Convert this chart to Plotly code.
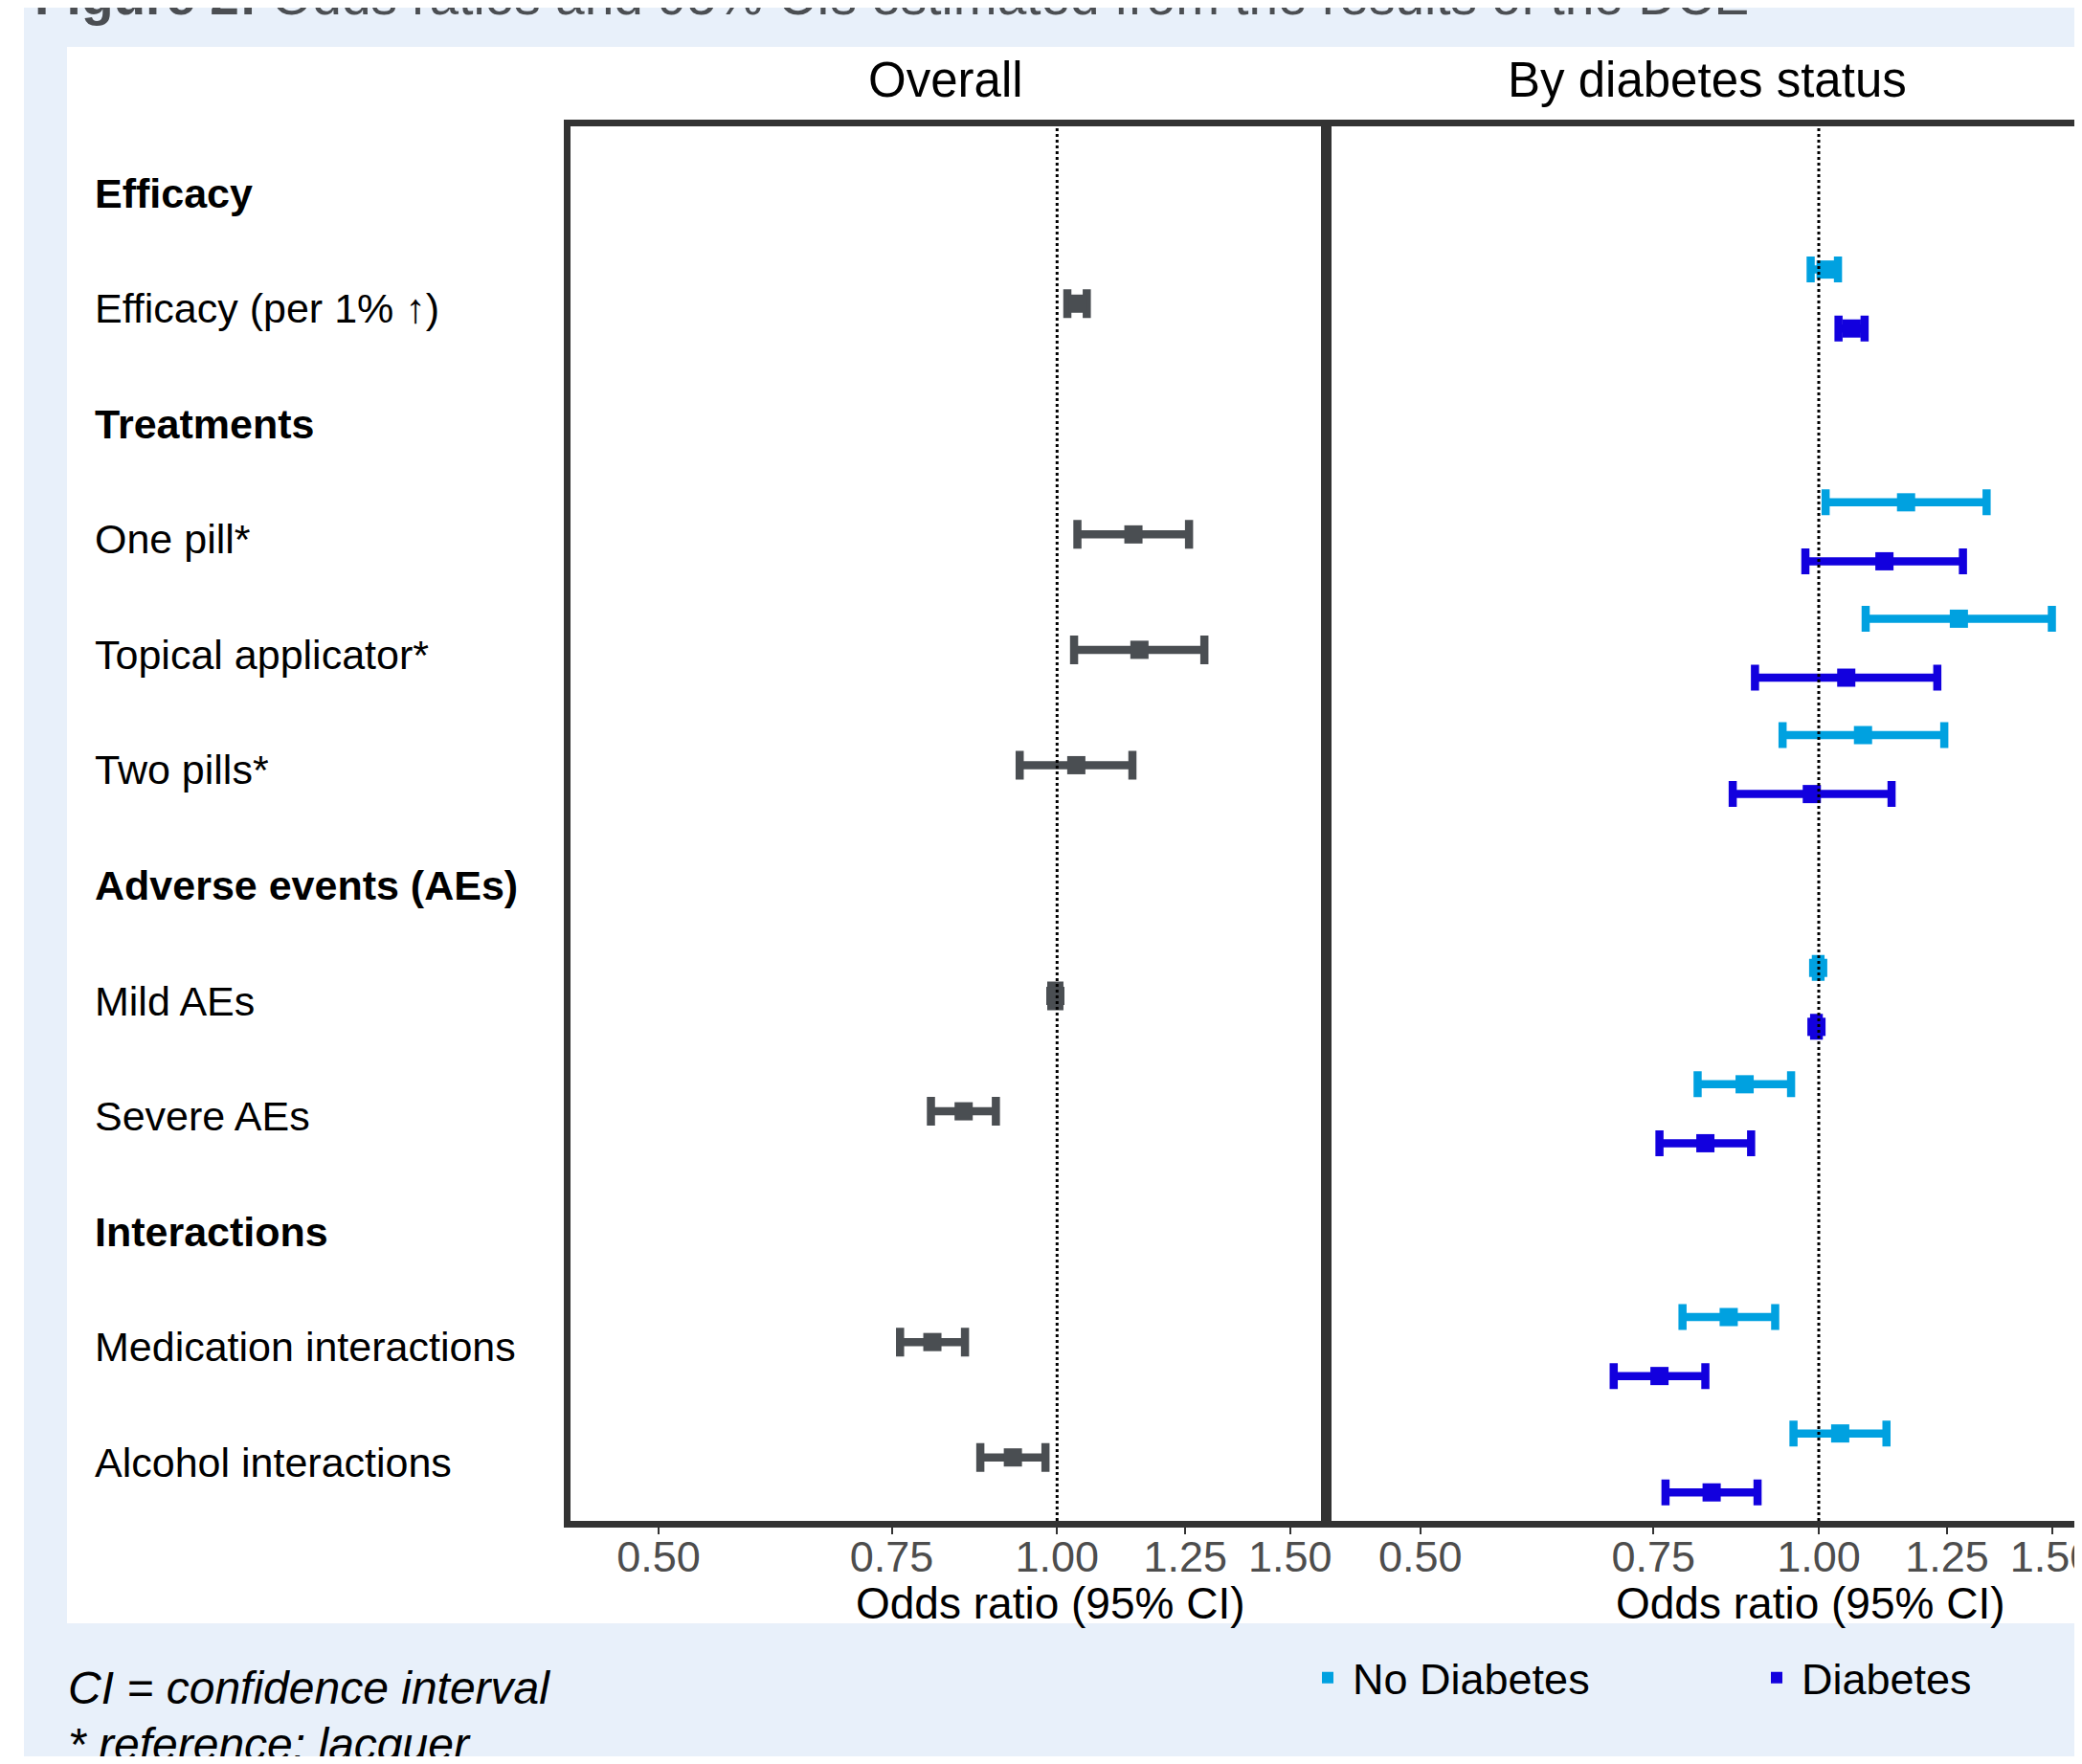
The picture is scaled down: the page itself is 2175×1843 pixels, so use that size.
import plotly.graph_objects as go

# ---------------- data ----------------
row_labels = ["Efficacy", "Efficacy (per 1% ↑)", "Treatments", "One pill*",
              "Topical applicator*", "Two pills*", "Adverse events (AEs)",
              "Mild AEs", "Severe AEs", "Interactions",
              "Medication interactions", "Alcohol interactions"]
row_is_header = [True, False, True, False, False, False, True, False, False,
                 True, False, False]

# attribute rows (index into row_labels)
attr_rows = [1, 3, 4, 5, 7, 8, 10, 11]

overall_or = [1.036, 1.142, 1.154, 1.034, 0.997, 0.850, 0.805, 0.926]
overall_lo = [1.018, 1.036, 1.030, 0.937, 0.990, 0.803, 0.761, 0.875]
overall_hi = [1.053, 1.258, 1.292, 1.140, 1.004, 0.899, 0.852, 0.980]

nodiab_or = [1.012, 1.164, 1.276, 1.080, 0.999, 0.879, 0.855, 1.038]
nodiab_lo = [0.986, 1.012, 1.085, 0.939, 0.995, 0.810, 0.789, 0.957]
nodiab_hi = [1.034, 1.339, 1.500, 1.244, 1.003, 0.953, 0.927, 1.125]

diab_or = [1.059, 1.121, 1.049, 0.988, 0.996, 0.821, 0.758, 0.830]
diab_lo = [1.035, 0.977, 0.895, 0.861, 0.992, 0.758, 0.700, 0.766]
diab_hi = [1.083, 1.285, 1.229, 1.135, 1.000, 0.889, 0.821, 0.899]

tick_vals = [0.50, 0.75, 1.00, 1.25, 1.50]
tick_text = ["0.50", "0.75", "1.00", "1.25", "1.50"]
ref_or = 1.0

panel_titles = ["Overall", "By diabetes status"]
axis_title = "Odds ratio (95% CI)"
group_names = ["No Diabetes", "Diabetes"]
fig_title = "<b>Figure 2:</b> Odds ratios and 95% CIs estimated from the results of the DCE"
footnotes = ["<i>CI = confidence interval</i>", "<i>* reference: lacquer</i>"]

# ---------------- styling ----------------
OFF = 8                     # default page body margin
W, H = 2175 - 2 * OFF, 1843 - 2 * OFF
FONT = "Liberation Sans, Arial, Helvetica, sans-serif"
C_OVERALL = "#4A4E52"
C_NODIAB = "#00A1E0"
C_DIAB = "#1200DE"
FRAME = "#333333"
DODGE = 0.2533


def px_x(p):
    return (p - OFF) / W


def px_y(p):
    return 1 - (p - OFF) / H


x_range1 = [-0.36756, 0.19936]
x_range2 = [-0.36807, 0.19307]
y1_range = [11.550, -0.537]
y2_range = [11.498, -0.4836]
dom_y = [px_y(1589), px_y(132)]
dom_x1 = [px_x(596), px_x(1380)]
dom_x2 = [px_x(1391), 1.0]


def err(o, lo, hi):
    return ([h - v for v, h in zip(o, hi)], [v - l for v, l in zip(o, lo)])


fig = go.Figure()

e_hi, e_lo = err(overall_or, overall_lo, overall_hi)
fig.add_trace(go.Scatter(
    x=overall_or, y=attr_rows, mode="markers", xaxis="x", yaxis="y",
    marker=dict(symbol="square", size=19, color=C_OVERALL),
    error_x=dict(type="data", symmetric=False, array=e_hi, arrayminus=e_lo,
                 color=C_OVERALL, thickness=8.5, width=15),
    showlegend=False, hoverinfo="skip"))

for name, o, lo, hi, col, off, lg in [
        (group_names[0], nodiab_or, nodiab_lo, nodiab_hi, C_NODIAB, -DODGE, "legend"),
        (group_names[1], diab_or, diab_lo, diab_hi, C_DIAB, DODGE, "legend2")]:
    e_hi, e_lo = err(o, lo, hi)
    fig.add_trace(go.Scatter(
        x=o, y=[r + off for r in attr_rows], mode="markers", name=name,
        xaxis="x2", yaxis="y2", legend=lg,
        marker=dict(symbol="square", size=19, color=col),
        error_x=dict(type="data", symmetric=False, array=e_hi, arrayminus=e_lo,
                     color=col, thickness=8.5, width=13.5),
        showlegend=True, hoverinfo="skip"))

# reference lines at OR = 1
for xa, ya, yr in [("x", "y", y1_range), ("x2", "y2", y2_range)]:
    fig.add_trace(go.Scatter(
        x=[ref_or, ref_or], y=yr, mode="lines", xaxis=xa, yaxis=ya,
        line=dict(color="black", width=3, dash="dot"),
        showlegend=False, hoverinfo="skip", cliponaxis=True))

xaxis_common = dict(type="log", showline=True, mirror=True, automargin=False,
                    linewidth=7, linecolor=FRAME, ticks="outside", ticklen=7,
                    tickwidth=2, tickcolor=FRAME, tickvals=tick_vals,
                    ticktext=tick_text, showgrid=False, zeroline=False,
                    ticklabelstandoff=-15, ticklabeloverflow="allow",
                    tickfont=dict(family=FONT, size=45, color="#4D4D4D"))
yaxis_common = dict(showline=True, linewidth=7, linecolor=FRAME,
                    automargin=False,
                    showticklabels=False, ticks="", showgrid=False,
                    zeroline=False, domain=dom_y)

legend_common = dict(orientation="h", xanchor="left", yanchor="middle",
                     bgcolor="rgba(0,0,0,0)", itemsizing="constant",
                     itemwidth=42,
                     font=dict(family=FONT, size=45, color="black"))

fig.update_layout(
    width=W, height=H, autosize=False,
    margin=dict(l=0, r=0, t=0, b=0, pad=0, autoexpand=False),
    paper_bgcolor="white", plot_bgcolor="white",
    font=dict(family=FONT, color="black"),
    xaxis=dict(domain=dom_x1, anchor="y", range=x_range1, **xaxis_common),
    xaxis2=dict(domain=dom_x2, anchor="y2", range=x_range2, **xaxis_common),
    yaxis=dict(anchor="x", range=y1_range, mirror=True, **yaxis_common),
    yaxis2=dict(anchor="x2", range=y2_range, mirror=False, **yaxis_common),
    legend=dict(x=px_x(1361), y=px_y(1753), **legend_common),
    legend2=dict(x=px_x(1830), y=px_y(1753), **legend_common),
)

# backgrounds
fig.add_shape(type="rect", xref="paper", yref="paper", x0=px_x(25), x1=1,
              y0=0, y1=1, fillcolor="#E8F0FA", line=dict(width=0), layer="below")
fig.add_shape(type="rect", xref="paper", yref="paper", x0=px_x(70), x1=1,
              y0=px_y(1696), y1=px_y(49), fillcolor="white",
              line=dict(width=0), layer="below")

ann = []
# row labels
for i, (lab, hdr) in enumerate(zip(row_labels, row_is_header)):
    ann.append(dict(text=f"<b>{lab}</b>" if hdr else lab, xref="paper",
                    yref="y", x=px_x(97), y=i, xanchor="left",
                    yanchor="middle", yshift=-5, showarrow=False,
                    font=dict(family=FONT, size=43, color="black")))
# panel titles
for t, xc in zip(panel_titles, [987.5, 1783.5]):
    ann.append(dict(text=t, xref="paper", yref="paper", x=px_x(xc),
                    y=px_y(84), xanchor="center", yanchor="middle",
                    showarrow=False, font=dict(family=FONT, size=51,
                                               color="black")))
# axis titles
for xc in [1097, 1891]:
    ann.append(dict(text=axis_title, xref="paper", yref="paper", x=px_x(xc),
                    y=px_y(1675), xanchor="center", yanchor="middle",
                    showarrow=False, font=dict(family=FONT, size=46,
                                               color="black")))
# figure title (cut at top edge)
ann.append(dict(text=fig_title, xref="paper", yref="paper", x=px_x(34),
                y=px_y(-4), xanchor="left", yanchor="middle", showarrow=False,
                font=dict(family=FONT, size=55, color="#4B4E52")))
# footnotes
for t, yc in zip(footnotes, [1763, 1822]):
    ann.append(dict(text=t, xref="paper", yref="paper", x=px_x(69),
                    y=px_y(yc), xanchor="left", yanchor="middle",
                    showarrow=False, font=dict(family=FONT, size=48,
                                               color="black")))
fig.update_layout(annotations=ann)

fig.write_html("out.html")
